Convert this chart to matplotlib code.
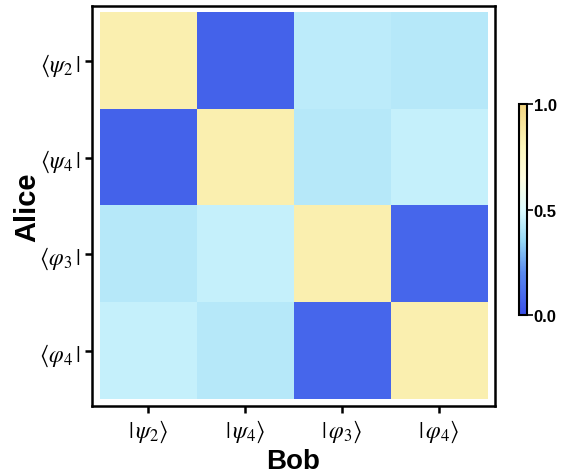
import numpy as np
import matplotlib
matplotlib.use("Agg")
import matplotlib.pyplot as plt
from matplotlib.colors import LinearSegmentedColormap

plt.rcParams['mathtext.fontset'] = 'stix'
plt.rcParams['font.family'] = ['Liberation Sans', 'DejaVu Sans']

#%% Data ######################################################################
bob_labels = [r'$|\,\psi_2\rangle$', r'$|\,\psi_4\rangle$',
              r'$|\,\varphi_3\rangle$', r'$|\,\varphi_4\rangle$']
alice_labels = [r'$\langle\psi_2\,|$', r'$\langle\psi_4\,|$',
                r'$\langle\varphi_3\,|$', r'$\langle\varphi_4\,|$']
row_psi2 = [0.84, 0.07, 0.43, 0.42]
row_psi4 = [0.07, 0.84, 0.42, 0.45]
row_phi3 = [0.42, 0.45, 0.84, 0.08]
row_phi4 = [0.45, 0.42, 0.08, 0.84]

#%% Plot ######################################################################
cmap = LinearSegmentedColormap.from_list(
    'bly', [(0, '#3A4FE8'), (0.2, '#5A8AF0'), (0.35, '#95D8F5'),
            (0.5, '#DDFCFF'), (0.65, '#FFFDE0'), (0.8, '#FDF7BC'),
            (1, '#F2D580')])

M = np.array([row_psi2, row_psi4, row_phi3, row_phi4])

fig = plt.figure(figsize=(5.64, 4.77), dpi=100)
ax = fig.add_axes([0.163, 0.147, 0.715, 0.838])
im = ax.imshow(M, cmap=cmap, vmin=0, vmax=1, aspect='auto')
ax.set_xlim(-0.58, 3.58)
ax.set_ylim(3.57, -0.57)

ax.set_xticks(range(4))
ax.set_xticklabels(bob_labels, fontsize=17)
ax.set_yticks(range(4))
ax.set_yticklabels(alice_labels, fontsize=17)
ax.tick_params(direction='out', length=5, width=1.8)
for s in ax.spines.values():
    s.set_linewidth(1.8)

ax.set_xlabel('Bob', fontsize=20, fontweight='bold')
ax.set_ylabel('Alice', fontsize=21, fontweight='bold')
ax.xaxis.set_label_coords(0.5, -0.105)
ax.yaxis.set_label_coords(-0.125, 0.5)

cax = fig.add_axes([0.920, 0.3375, 0.0142, 0.442])
cb = fig.colorbar(im, cax=cax, ticks=[0, 0.5, 1.0])
cb.ax.set_yticklabels(['0.0', '0.5', '1.0'], fontsize=12, fontweight='bold')
cb.ax.tick_params(length=4, width=1.2, pad=1)
cb.outline.set_linewidth(1.5)

fig.savefig('out.png', dpi=100)
